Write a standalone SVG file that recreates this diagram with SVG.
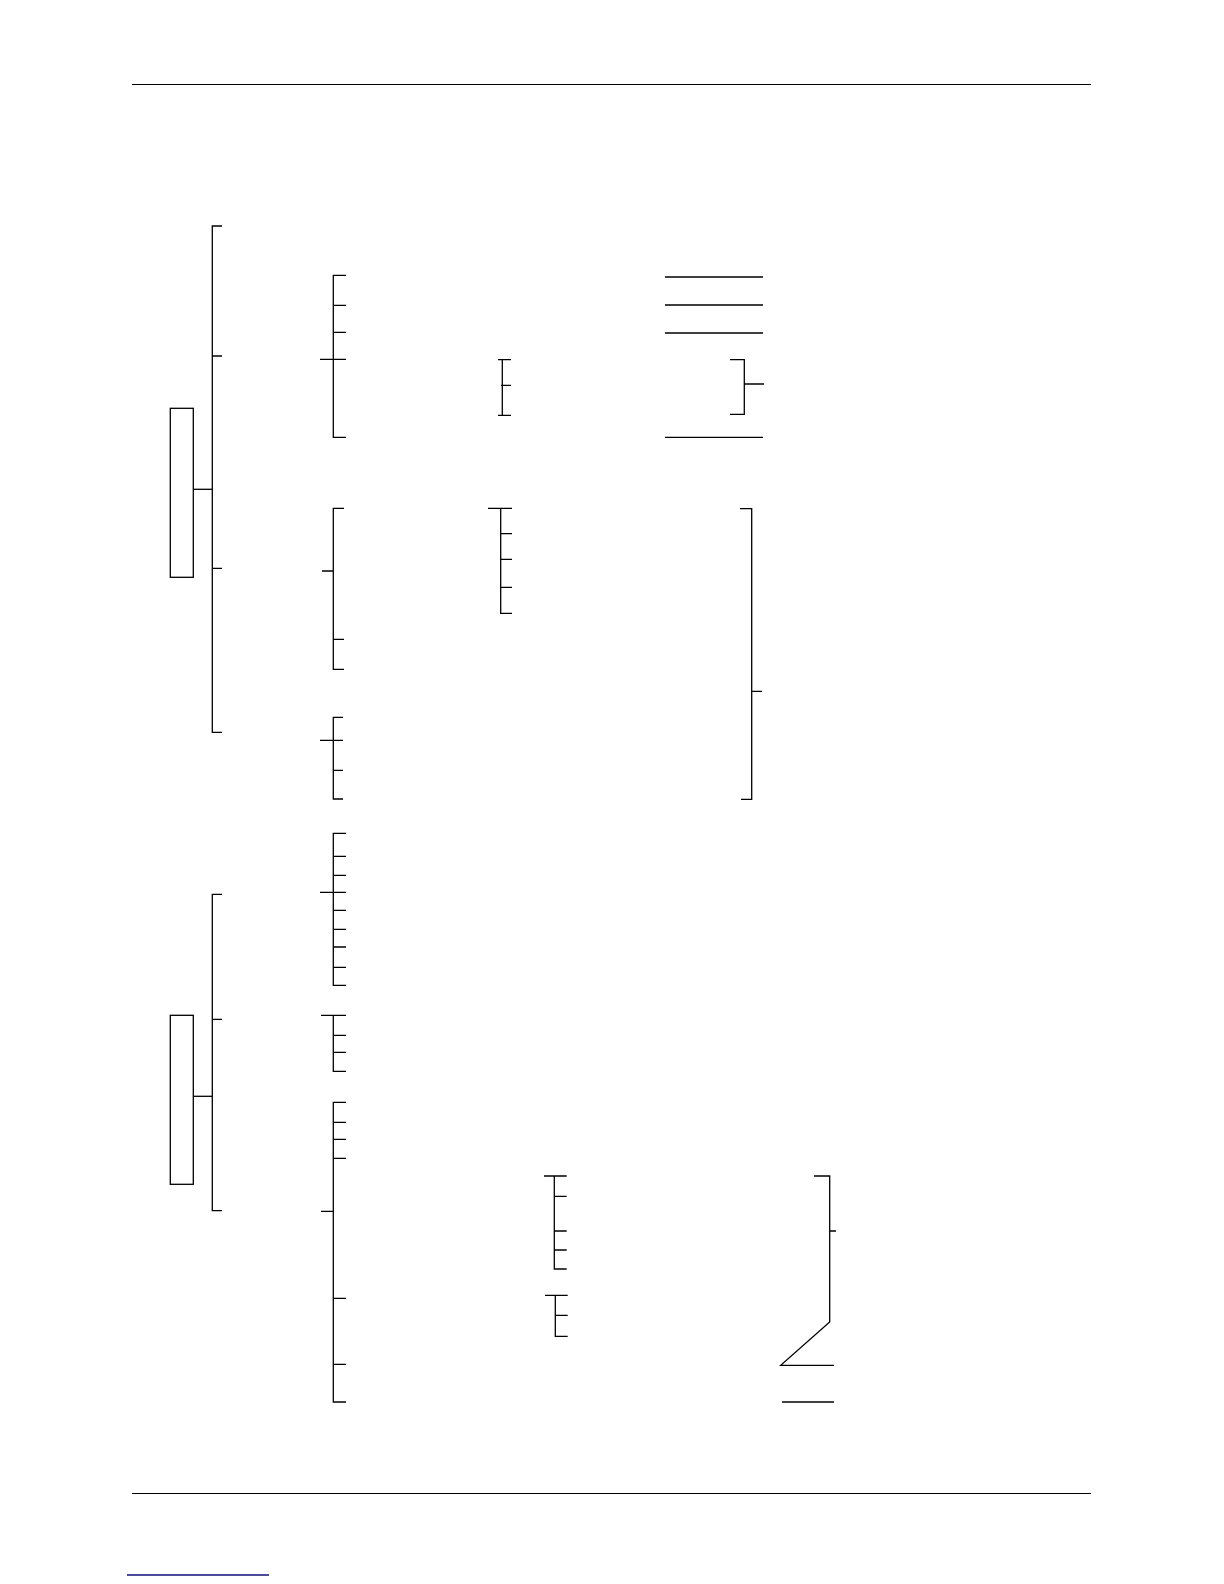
<svg xmlns="http://www.w3.org/2000/svg" width="1224" height="1584" viewBox="0 0 1224 1584">
<style>
.ln{stroke:#000;stroke-width:1.3;fill:none;stroke-linecap:butt}
.rule{stroke:#000;stroke-width:1.2;fill:none}
.box{stroke:#000;stroke-width:1.3;fill:#fff}
.link{stroke:#10107a;stroke-width:1.4;fill:none}
</style>
<rect width="1224" height="1584" fill="#fff"/>
<g id="page-rules">
<line class="rule" x1="132" y1="84.5" x2="1091" y2="84.5"/>
<line class="rule" x1="132" y1="1493.5" x2="1091" y2="1493.5"/>
<line class="link" x1="127" y1="1575" x2="269" y2="1575"/>
</g>
<g id="node-1"><rect class="box" x="170.3" y="408.3" width="23" height="169"/></g>
<g id="node-2"><rect class="box" x="170.3" y="1015.3" width="23" height="169"/></g>
<g id="connectors">
<path class="ln" d="M193.3 489.3H212.3"/>
<path class="ln" d="M222 226H212.3V732.3H222M212.3 356H222M212.3 568.3H222"/>
<path class="ln" d="M346 275.3H333.3V437.3H346M333.3 305.3H346M333.3 332.3H346M320 359.3H346"/>
<path class="ln" d="M344 508.3H333.3V669.3H344M322 571H333.3M333.3 639.3H344"/>
<path class="ln" d="M343 717.3H333.3V799H343M320 740.3H343M333.3 770.3H343"/>
<path class="ln" d="M193.3 1096.3H212.3"/>
<path class="ln" d="M222 894.3H212.3V1210.7H222M212.3 1019.3H222"/>
<path class="ln" d="M346 833.3H333.3V985.3H346M333.3 856.3H346M333.3 875.3H346M320 892.3H346M333.3 910.3H346M333.3 929.3H346M333.3 947H346M333.3 967.3H346"/>
<path class="ln" d="M321 1015.3H346M333.3 1015.3V1071.3H346M333.3 1035.3H346M333.3 1052.3H346"/>
<path class="ln" d="M346 1102.3H333.3V1402H346M333.3 1122.3H346M333.3 1139.3H346M333.3 1158.3H346M321 1211.3H333.3M333.3 1298.3H346M333.3 1364.3H346"/>
<path class="ln" d="M498 359.7H511M502.3 359.7V415.3M498 415.3H511M501 385.3H511"/>
<path class="ln" d="M730 359.7H744.3V414.3H730M744.3 384H764"/>
<path class="ln" d="M665 277H763M665 305H763M665 333H763M665 437.3H763"/>
<path class="ln" d="M488 508.3H512M500.7 508.3V613.3H512M500.7 533.7H512M500.7 559.3H512M500.7 587.3H512"/>
<path class="ln" d="M740 508.7H751.7V799.3H741M751.7 691.3H762"/>
<path class="ln" d="M544 1176H566.7M554.3 1176V1269H566.7M554.3 1196.3H566.7M554.3 1231H566.7M554.3 1250H566.7"/>
<path class="ln" d="M545 1295.3H567.7M555.3 1295.3V1336.3H567.7M555.3 1315.3H567.7"/>
<path class="ln" d="M814 1176H829.7V1322L780.7 1365.3H834M829.7 1231H836"/>
<path class="ln" d="M782 1402H834"/>
</g>
</svg>
